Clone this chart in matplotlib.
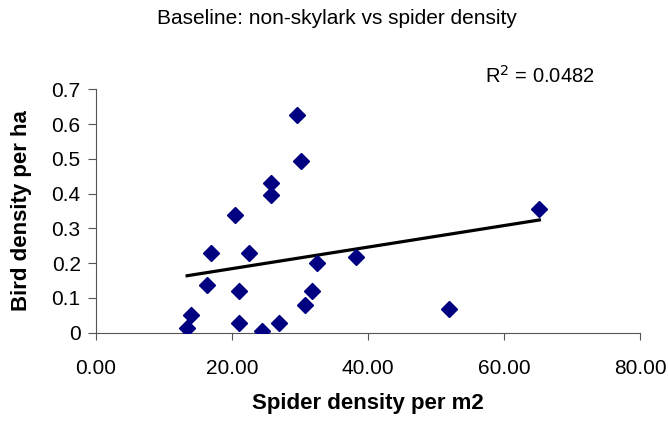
import numpy as np
import matplotlib.pyplot as plt

plt.rcParams['font.family'] = ['Liberation Sans', 'DejaVu Sans']

# spider density (per m2) and non-skylark bird density (per ha) per field
spider_density = [13.4, 13.9, 16.9, 16.3, 20.4, 21.0, 21.0, 22.5, 24.4, 25.8,
                  25.8, 26.9, 29.6, 30.1, 30.7, 31.7, 32.5, 38.3, 51.9, 65.2]
bird_density = [0.013, 0.051, 0.230, 0.137, 0.338, 0.121, 0.029, 0.230, 0.006, 0.431,
                0.396, 0.029, 0.626, 0.494, 0.080, 0.121, 0.200, 0.219, 0.068, 0.356]
r_squared_label = "R$^2$ = 0.0482"

x = np.array(spider_density)
y = np.array(bird_density)
slope, intercept = np.polyfit(x, y, 1)
xfit = np.array([x.min(), x.max()])

fig = plt.figure(figsize=(6.68, 4.21), dpi=100)
ax = fig.add_axes([96 / 668, 1 - 332.7 / 421, 544 / 668, 243.4 / 421])

ax.plot(xfit, slope * xfit + intercept, color="black", linewidth=2.3, zorder=2)
ax.plot(x, y, linestyle="none", marker="D", markersize=8, color="#000080", zorder=3)

ax.set_xlim(0, 80)
ax.set_ylim(0, 0.7)
ax.set_xticks([0, 20, 40, 60, 80])
ax.set_xticklabels(["0.00", "20.00", "40.00", "60.00", "80.00"])
ax.set_yticks(np.arange(0, 0.71, 0.1))
ax.set_yticklabels(["0", "0.1", "0.2", "0.3", "0.4", "0.5", "0.6", "0.7"])
ax.tick_params(labelsize=15, width=0.8, color="#555555")
ax.tick_params(axis="x", length=5, pad=14)
ax.tick_params(axis="y", length=6, pad=5)

for side in ["top", "right"]:
    ax.spines[side].set_visible(False)
for side in ["left", "bottom"]:
    ax.spines[side].set_color("#555555")
    ax.spines[side].set_linewidth(0.8)

ax.set_xlabel("Spider density per m2", fontsize=16, fontweight="bold")
ax.set_ylabel("Bird density per ha", fontsize=16, fontweight="bold")
ax.xaxis.set_label_coords(0.5, -0.247)
ax.yaxis.set_label_coords(-0.118, 0.5)

fig.text(337 / 668, 1 - 18 / 421, "Baseline: non-skylark vs spider density",
         ha="center", va="center", fontsize=15)
fig.text(485 / 668, 1 - 76 / 421, r_squared_label, ha="left", va="center", fontsize=14.5)

fig.savefig("out.png", dpi=100)
